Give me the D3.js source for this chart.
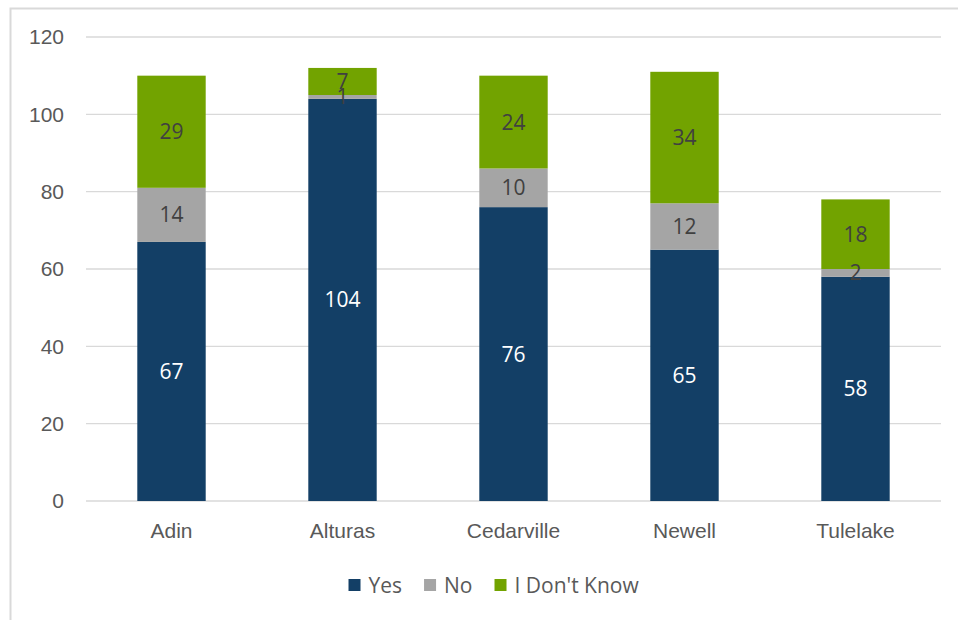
<!DOCTYPE html>
<html>
<head>
<meta charset="utf-8">
<script src="https://cdn.jsdelivr.net/npm/d3@7"></script>
<style>
	body { margin: 0; background: #fff; }
	svg { font-family: "Open Sans", "DejaVu Sans", sans-serif; }
	.grid line { stroke: #d9d9d9; stroke-width: 1.3; }
	.tick-label { fill: #595959; font-size: 21px; }
	.seg-label { font-size: 21px; }
</style>
</head>
<body>
<div id="chart"></div>
<script>
const towns = ["Adin", "Alturas", "Cedarville", "Newell", "Tulelake"];
const yes = [67, 104, 76, 65, 58];
const no = [14, 1, 10, 12, 2];
const dontKnow = [29, 7, 24, 34, 18];
const yTicks = [0, 20, 40, 60, 80, 100, 120];
const seriesNames = ["Yes", "No", "I Don't Know"];
const seriesColors = ["#133f66", "#a5a5a5", "#72a300"];
const labelColors = ["#ffffff", "#404040", "#404040"];

let drawChart = function(parent) {
	let W = 958, H = 620;
	let margin = { top: 37, right: 17, bottom: 119, left: 86 };
	let width = W - margin.left - margin.right;
	let height = H - margin.top - margin.bottom;

	let svg = d3.select(parent).append("svg")
		.attr("width", W)
		.attr("height", H);

	//outer chart border
	svg.append("rect")
		.attr("x", 10.5).attr("y", 8.5)
		.attr("width", 1000).attr("height", 1000)
		.attr("fill", "none")
		.attr("stroke", "#d9d9d9")
		.attr("stroke-width", 2);

	let g = svg.append("g")
		.attr("transform", `translate(${margin.left}, ${margin.top})`);

	let x = d3.scaleBand().domain(towns).range([0, width]).paddingInner(0.6).paddingOuter(0.3);
	let y = d3.scaleLinear().domain([0, 120]).range([height, 0]);

	//gridlines
	g.append("g").attr("class", "grid")
		.selectAll("line")
		.data(yTicks)
		.enter().append("line")
		.attr("x1", 0).attr("x2", width)
		.attr("y1", d => y(d)).attr("y2", d => y(d));

	//y-axis labels
	let yAxis = g.append("g")
		.call(d3.axisLeft(y).tickValues(yTicks).tickSize(0).tickPadding(22));
	yAxis.select(".domain").remove();
	yAxis.selectAll("text").attr("class", "tick-label").attr("font-size", null).attr("font-family", null);

	//x-axis labels
	let xAxis = g.append("g")
		.attr("transform", `translate(0, ${height})`)
		.call(d3.axisBottom(x).tickSize(0).tickPadding(22));
	xAxis.select(".domain").remove();
	xAxis.selectAll("text").attr("class", "tick-label").attr("font-size", null).attr("font-family", null);

	//stack data
	let rows = towns.map((t, i) => ({ town: t, "Yes": yes[i], "No": no[i], "I Don't Know": dontKnow[i] }));
	let stacked = d3.stack().keys(seriesNames)(rows);

	let layers = g.selectAll(".layer")
		.data(stacked)
		.enter().append("g")
		.attr("class", "layer")
		.attr("fill", (d, i) => seriesColors[i]);

	layers.selectAll("rect")
		.data(d => d)
		.enter().append("rect")
		.attr("x", d => x(d.data.town))
		.attr("y", d => y(d[1]))
		.attr("width", x.bandwidth())
		.attr("height", d => y(d[0]) - y(d[1]));

	//segment labels
	stacked.forEach((layer, li) => {
		g.append("g").selectAll("text")
			.data(layer)
			.enter().append("text")
			.attr("class", "seg-label")
			.attr("x", d => x(d.data.town) + x.bandwidth() / 2)
			.attr("y", d => (y(d[0]) + y(d[1])) / 2)
			.attr("dy", "0.36em")
			.attr("text-anchor", "middle")
			.attr("fill", labelColors[li])
			.text(d => d[1] - d[0]);
	});

	//legend
	let legendY = 585;
	let gap = 22;
	let legend = svg.append("g");
	let items = legend.selectAll("g")
		.data(seriesNames)
		.enter().append("g");
	items.append("rect")
		.attr("width", 12).attr("height", 12)
		.attr("y", legendY - 6)
		.attr("fill", (d, i) => seriesColors[i]);
	items.append("text")
		.attr("class", "tick-label")
		.attr("x", 20)
		.attr("y", legendY)
		.attr("dy", "0.36em")
		.text(d => d);
	//lay out legend items side by side
	let lx = 0;
	items.each(function() {
		d3.select(this).attr("transform", `translate(${lx}, 0)`);
		lx += this.getBBox().width + gap;
	});
	let legendWidth = lx - gap;
	legend.attr("transform", `translate(${494 - legendWidth / 2}, 0)`);

	return svg.node();
};

drawChart(d3.select("#chart").node());
</script>
</body>
</html>
